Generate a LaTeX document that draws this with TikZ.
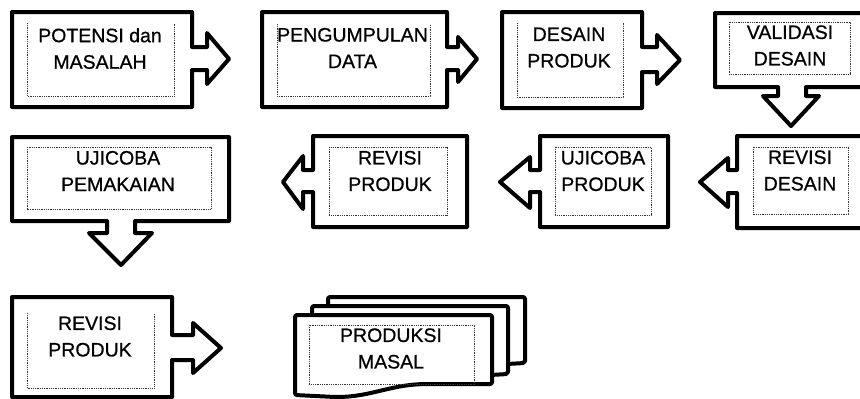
\documentclass[tikz,border=0pt]{standalone}
\usepackage{fontspec}
\setmainfont{Liberation Sans}[BoldFont={Liberation Sans}, BoldFeatures={FakeBold=0.7}]
\newcommand{\lbfont}{\fontsize{19.5}{26.5}\selectfont\bfseries}
\begin{document}
\begin{tikzpicture}[x=1pt,y=-1pt,
  callout/.style={draw=black, line width=4pt, line join=round, fill=white},
  innerbox/.style={draw=black!80, line width=0.9pt, dash pattern=on 0.9pt off 0.9pt},
  lbl/.style={font=\lbfont, align=center, inner sep=0pt, text=black}]
\useasboundingbox (0,0) rectangle (860,399);
\clip (0,0) rectangle (860,399);
\fill[white] (0,0) rectangle (860,399);

% ---- Row 1 ----
\draw[callout] (12,12) -- (192,12) -- (192,47) -- (207,47) -- (207,33) -- (229,59) -- (207,84) -- (207,70) -- (192,70) -- (192,107) -- (12,107) -- cycle;
\draw[innerbox] (27,23) -- (27,96) -- (174,96) -- (174,23);
\node[lbl] (t1) at (100,48.5) {POTENSI dan\\MASALAH};

\draw[callout] (262,12) -- (447,12) -- (447,47) -- (458,47) -- (458,37) -- (477,59) -- (458,82) -- (458,70) -- (447,70) -- (447,107) -- (262,107) -- cycle;
\draw[innerbox] (277,24) -- (277,96) -- (430,96) -- (430,24);
\node[lbl] (t2) at (352.5,48) {PENGUMPULAN\\DATA};

\draw[callout] (502,12) -- (642,12) -- (642,47) -- (657,47) -- (657,35) -- (680,60) -- (657,84) -- (657,72) -- (642,72) -- (642,108) -- (502,108) -- cycle;
\draw[innerbox] (517,23) -- (517,97) -- (623,97) -- (623,23);
\node[lbl] (t3) at (569,47.5) {DESAIN\\PRODUK};

\draw[callout] (715,13) -- (880,13) -- (880,87) -- (806,87) -- (806,96) -- (819,96) -- (791,126) -- (763,96) -- (778,96) -- (778,87) -- (715,87) -- cycle;
\draw[innerbox] (729,22) rectangle (850,74);
\node[lbl] (t4) at (790,45.5) {VALIDASI\\DESAIN};

% ---- Row 2 ----
\draw[callout] (12,137) -- (229,137) -- (229,221) -- (135,221) -- (135,233) -- (152,233) -- (121,265) -- (89,233) -- (107,233) -- (107,221) -- (12,221) -- cycle;
\draw[innerbox] (27,147) rectangle (211,209);
\node[lbl] (t5) at (118,171) {UJICOBA\\PEMAKAIAN};

\draw[callout] (313,136) -- (467,136) -- (467,227) -- (313,227) -- (313,192) -- (303,192) -- (303,209) -- (283,182) -- (303,156) -- (303,170) -- (313,170) -- cycle;
\draw[innerbox] (329,147) rectangle (447,215);
\node[lbl] (t6) at (390,171) {REVISI\\PRODUK};

\draw[callout] (540,136) -- (668,136) -- (668,227) -- (540,227) -- (540,192) -- (530,192) -- (530,208) -- (500,182) -- (530,157) -- (530,170) -- (540,170) -- cycle;
\draw[innerbox] (555,147) rectangle (651,215);
\node[lbl] (t7) at (603,171) {UJICOBA\\PRODUK};

\draw[callout] (737,136) -- (880,136) -- (880,228) -- (737,228) -- (737,193) -- (728,193) -- (728,207) -- (700,182) -- (728,158) -- (728,170) -- (737,170) -- cycle;
\draw[innerbox] (753,147) rectangle (848,214);
\node[lbl] (t8) at (800,170.5) {REVISI\\DESAIN};

% ---- Row 3 ----
\draw[callout] (12,297) -- (172,297) -- (172,335) -- (193,335) -- (193,323) -- (221,348) -- (193,373) -- (193,360) -- (172,360) -- (172,397) -- (12,397) -- cycle;
\draw[innerbox] (27,313) -- (27,388) -- (154,388) -- (154,313);
\node[lbl] (t9) at (90,336.5) {REVISI\\PRODUK};

% multidocument
\draw[callout, rounded corners=2pt] (328,297) -- (525,297) -- (525,363) -- (470,366) .. controls (430,368) and (410,380) .. (370,378) -- (328,376) -- cycle;
\draw[callout, rounded corners=2pt] (312,306) -- (508,306) -- (508,374) -- (455,377) .. controls (415,379) and (395,390) .. (355,388) -- (312,386) -- cycle;
\draw[callout, rounded corners=2pt] (295,315) -- (492,315) -- (492,384) -- (430,384) .. controls (390,384) and (372,397) .. (335,397) -- (295,395) -- cycle;
\draw[innerbox] (309,325) rectangle (474,384);
\node[lbl] (t10) at (391,348.5) {PRODUKSI\\MASAL};
\end{tikzpicture}
\end{document}
